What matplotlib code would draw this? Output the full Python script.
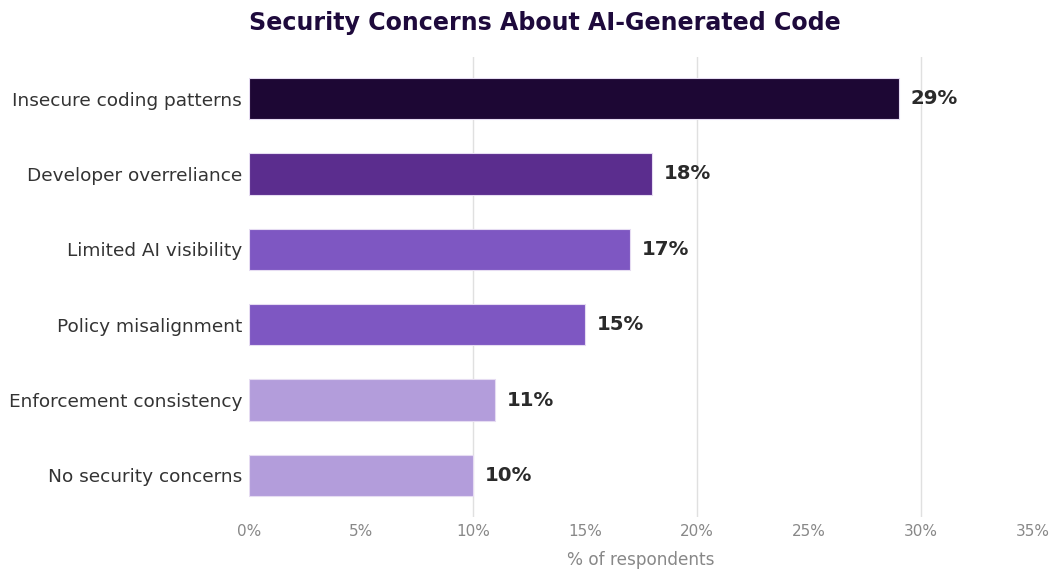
import matplotlib
matplotlib.use("Agg")
import matplotlib.pyplot as plt

categories = ["Insecure coding patterns", "Developer overreliance", "Limited AI visibility",
              "Policy misalignment", "Enforcement consistency", "No security concerns"]
values = [29, 18, 17, 15, 11, 10]
colors = ["#1d0734", "#5b2d8e", "#7e57c2", "#7e57c2", "#b39ddb", "#b39ddb"]
xticks = [0, 5, 10, 15, 20, 25, 30, 35]
xtick_labels = [f"{t}%" for t in xticks]
grid_x = [10, 20, 30]

fig = plt.figure(figsize=(10.51, 5.69), dpi=100)
ax = fig.add_axes([0.2369, 0.0914, 0.746, 0.8084])

for g in grid_x:
    ax.axvline(g, color="#e0e0e0", lw=1, zorder=0)

y = list(range(len(categories)))
ax.barh(y, values, height=0.55, color=colors, edgecolor="#e6dcf2", linewidth=0.8, zorder=2)
for yi, v in zip(y, values):
    ax.annotate(f"{v}%", (v, yi), xytext=(8.5, 0), textcoords="offset points",
                va="center", ha="left", fontsize=14.2, fontweight="bold", color="#2a2a2a")

ax.set_yticks(y)
ax.set_yticklabels(categories, fontsize=13.3, color="#333333")
ax.invert_yaxis()
ax.set_xlim(0, 35)
ax.set_xticks(xticks)
ax.set_xticklabels(xtick_labels, fontsize=11, color="#888888")
ax.tick_params(axis="both", length=0)
ax.tick_params(axis="x", pad=5)
ax.tick_params(axis="y", pad=5)
ax.set_xlabel("% of respondents", fontsize=12.2, color="#888888", labelpad=9)
for s in ax.spines.values():
    s.set_visible(False)
fig.text(0.5186, 0.959, "Security Concerns About AI-Generated Code", fontsize=17.1,
         fontweight="bold", color="#1e0a3c", ha="center", va="center")
fig.savefig("out.png", dpi=100)
